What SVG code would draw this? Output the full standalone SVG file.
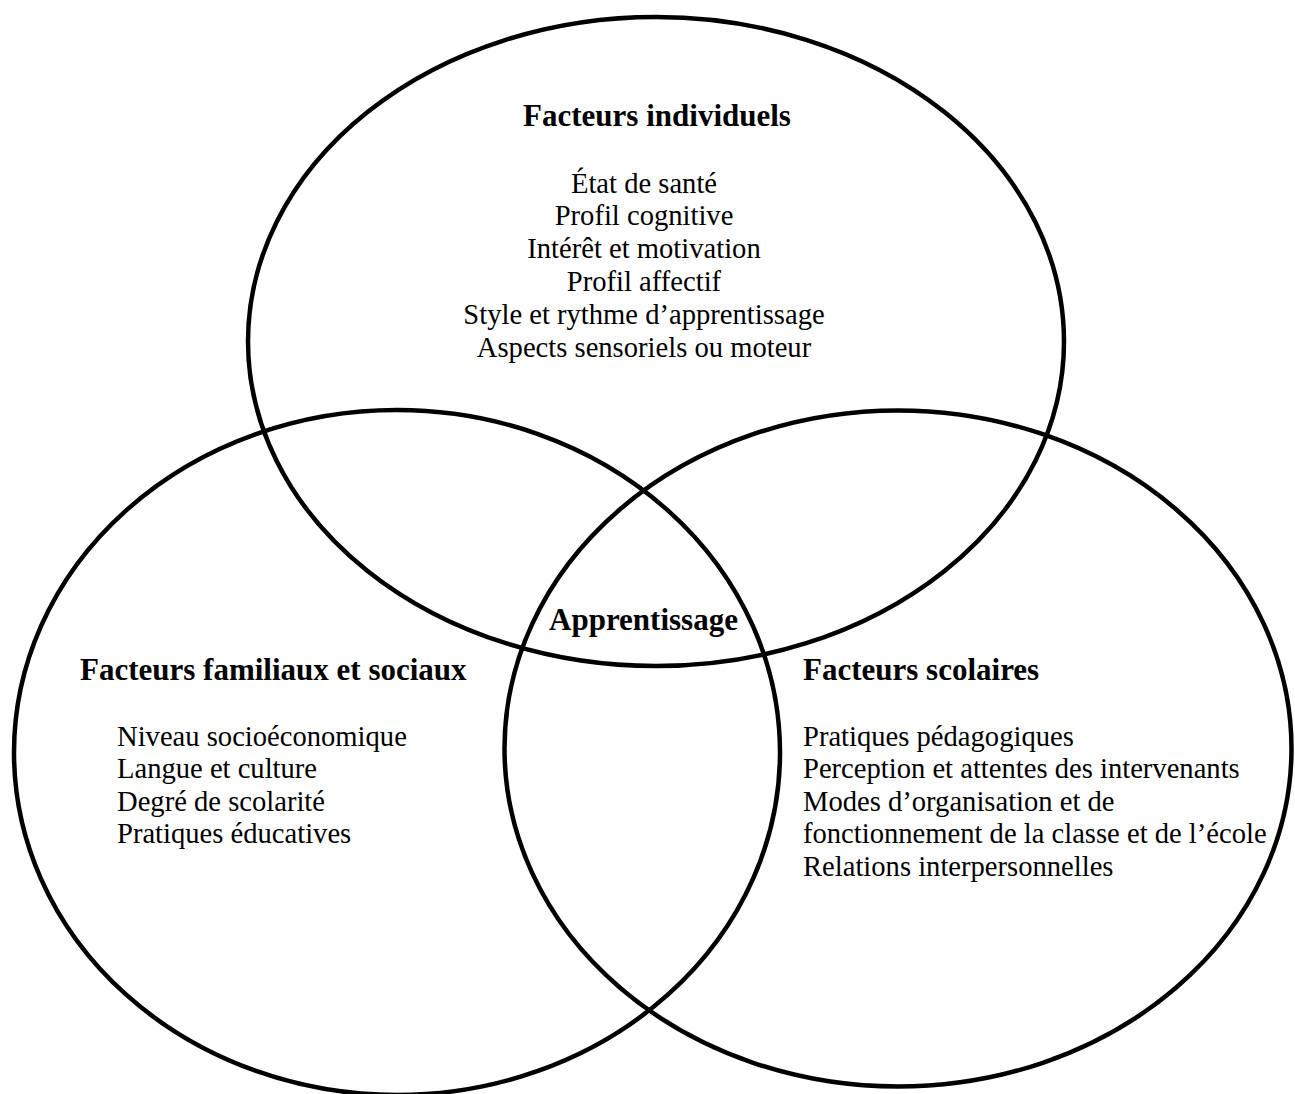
<svg xmlns="http://www.w3.org/2000/svg" width="1295" height="1094" viewBox="0 0 1295 1094">
<style>
.ring{fill:none;stroke:#000;stroke-width:4.5}
.h{font-family:"Liberation Serif","Times New Roman",serif;font-weight:bold;font-size:31px;fill:#000}
.t{font-family:"Liberation Serif","Times New Roman",serif;font-size:28.6px;fill:#000}
</style>
<rect width="1295" height="1094" fill="#fff"/>
<g id="individuels">
<ellipse class="ring" cx="656" cy="341.5" rx="408" ry="324.5"/>
<text class="h" x="657" y="126" text-anchor="middle">Facteurs individuels</text>
<g class="t" text-anchor="middle">
<text x="644" y="192.5">État de santé</text>
<text x="644" y="225.4">Profil cognitive</text>
<text x="644" y="258.3">Intérêt et motivation</text>
<text x="644" y="291.2">Profil affectif</text>
<text x="644" y="324.1">Style et rythme d’apprentissage</text>
<text x="644" y="357">Aspects sensoriels ou moteur</text>
</g>
</g>
<g id="familiaux">
<ellipse class="ring" cx="397" cy="752.5" rx="383" ry="342.5"/>
<text class="h" x="80" y="680">Facteurs familiaux et sociaux</text>
<g class="t">
<text x="117" y="745.5">Niveau socioéconomique</text>
<text x="117" y="778">Langue et culture</text>
<text x="117" y="810.5">Degré de scolarité</text>
<text x="117" y="843">Pratiques éducatives</text>
</g>
</g>
<g id="scolaires">
<ellipse class="ring" cx="898" cy="748.5" rx="393.5" ry="338"/>
<text class="h" x="803" y="680">Facteurs scolaires</text>
<g class="t">
<text x="803" y="745.5">Pratiques pédagogiques</text>
<text x="803" y="778">Perception et attentes des intervenants</text>
<text x="803" y="810.5">Modes d’organisation et de</text>
<text x="803" y="843">fonctionnement de la classe et de l’école</text>
<text x="803" y="876">Relations interpersonnelles</text>
</g>
</g>
<g id="apprentissage">
<text class="h" x="643.5" y="630" text-anchor="middle">Apprentissage</text>
</g>
<g id="connectors"/>
</svg>
